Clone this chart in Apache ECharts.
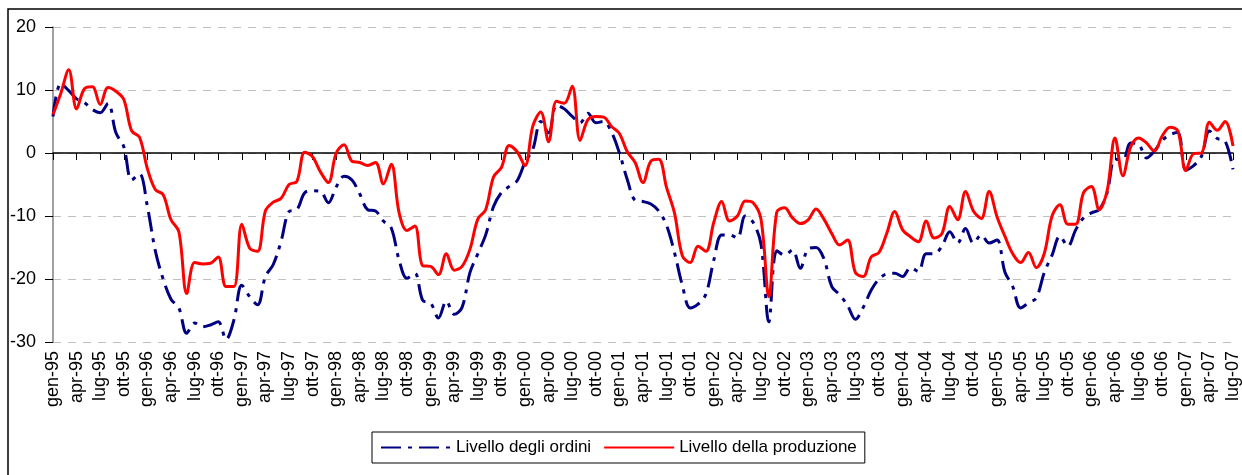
<!DOCTYPE html>
<html>
<head>
<meta charset="utf-8">
<script src="https://cdn.jsdelivr.net/npm/echarts@6/dist/echarts.min.js"></script>
<style>
  html, body { margin: 0; padding: 0; background: #fff; }
  #chart { width: 1242px; height: 475px; }
</style>
</head>
<body>
<div id="chart"></div>
<script>
  'use strict'
  /*----- dati: gen-95 .. lug-07, mensili -----*/
  var mesi = ['gen', 'feb', 'mar', 'apr', 'mag', 'giu', 'lug', 'ago', 'set', 'ott', 'nov', 'dic'];
  var anni = ['95', '96', '97', '98', '99', '00', '01', '02', '03', '04', '05', '06', '07'];
  var yTicks = [-30, -20, -10, 0, 10, 20];

  var ordini = [
    5.8, 11.0, 9.9, 8.6, 8.0, 6.9, 6.4, 7.9, 3.2, 1.0, -4.3, -3.3,
    -8.5, -15.5, -20.0, -23.2, -24.6, -28.6, -27.0, -27.6, -27.3, -26.8, -29.6, -26.5,
    -21.0, -22.8, -24.1, -19.6, -17.7, -14.0, -9.3, -9.0, -6.3, -6.0, -6.1, -7.9,
    -5.4, -3.7, -4.3, -6.5, -9.0, -9.2, -10.8, -11.9, -17.0, -19.9, -19.1, -23.4,
    -23.8, -26.2, -23.5, -25.6, -24.5, -19.0, -16.0, -13.0, -8.5, -6.3, -5.3, -4.4,
    -1.5, 0.6, 5.0, 3.2, 7.6, 7.0, 5.8, 4.8, 6.3, 4.8, 5.0, 3.3,
    0.0, -4.2, -7.5, -7.7, -8.1, -9.2, -11.5, -15.8, -21.0, -24.6, -24.0, -22.4,
    -17.0, -13.0, -13.0, -13.5, -10.0, -11.0, -14.5, -26.8, -15.5, -16.2, -15.4, -18.3,
    -15.2, -15.0, -16.8, -21.2, -22.5, -24.2, -26.4, -24.5, -21.8, -20.0, -19.2, -19.1,
    -19.6, -18.2, -18.8, -16.0, -16.0, -14.8, -12.5, -14.3, -12.0, -14.3, -13.0, -14.3,
    -13.8, -18.9, -21.2, -24.6, -23.8, -23.0, -19.0, -16.2, -13.2, -14.8, -12.2, -10.3,
    -9.5, -9.0, -6.3, -1.0, -1.1, 1.6, 1.4, -0.8, 0.3, 2.0, 2.9, 3.3,
    -2.7, -2.0, -0.5, 3.5, 2.3, 1.9, -2.6
  ];

  var produzione = [
    6.1, 9.5, 13.2, 7.0, 10.2, 10.5, 7.7, 10.4, 9.8, 8.5, 3.5, 2.5,
    -2.5, -5.8, -6.6, -10.6, -12.5, -22.3, -17.4, -17.6, -17.5, -16.5, -21.2, -21.2,
    -11.3, -15.1, -15.6, -9.2, -7.8, -7.2, -5.0, -4.5, 0.1, -0.6, -3.0, -4.7,
    0.0, 1.3, -1.3, -1.5, -2.0, -1.5, -4.9, -1.8, -9.5, -12.3, -11.6, -17.9,
    -18.0, -19.3, -16.0, -18.6, -18.0, -15.3, -10.5, -9.0, -3.8, -2.3, 1.2, 0.2,
    -2.0, 4.3, 6.5, 1.8, 8.2, 7.9, 10.6, 2.0, 5.3, 5.8, 5.7, 4.2,
    3.1, 0.2, -1.5, -4.7, -1.3, -1.0, -5.5, -9.5, -16.3, -17.4, -14.8, -15.6,
    -11.0, -7.7, -10.8, -10.0, -7.6, -7.9, -10.5, -22.8, -9.4, -8.7, -10.3, -11.2,
    -10.6, -8.9, -10.5, -12.8, -14.6, -13.8, -19.0, -19.6, -16.5, -15.8, -12.7, -9.3,
    -12.2, -13.3, -14.1, -10.8, -13.5, -12.8, -8.5, -10.6, -6.1, -9.2, -10.4, -6.1,
    -10.1, -13.2, -16.0, -17.4, -15.8, -18.2, -16.0, -10.0, -8.2, -11.3, -11.3, -6.3,
    -5.3, -9.0, -6.0, 2.4, -3.6, 1.0, 2.4, 1.6, 0.3, 2.7, 4.1, 3.5,
    -2.8, -0.1, 0.0, 4.9, 3.6, 5.0, 1.1
  ];

  var categorie = [];
  anni.forEach(function (a) {
    mesi.forEach(function (m) { categorie.push(m + '-' + a); });
  });
  categorie = categorie.slice(0, ordini.length);

  var font = 'Liberation Sans, Arial, sans-serif';
  var chart = echarts.init(document.getElementById('chart'));

  var option = {
    animation: false,
    backgroundColor: '#fff',
    textStyle: { fontFamily: font },
    graphic: [{
      type: 'rect',
      silent: true,
      shape: { x: 8, y: 9, width: 1400, height: 600 },
      style: { fill: 'none', stroke: '#000', lineWidth: 1.5 }
    }],
    grid: { left: 53, right: 9, top: 27, height: 315 },
    legend: {
      left: 372,
      top: 432,
      padding: [7, 8, 7, 8],
      borderColor: '#000',
      borderWidth: 1,
      itemWidth: 70,
      itemHeight: 14,
      itemGap: 12,
      itemStyle: { opacity: 0 },
      textStyle: { fontSize: 17, color: '#000', fontFamily: font },
      data: ['Livello degli ordini', 'Livello della produzione']
    },
    xAxis: [
      {
        type: 'category',
        data: categorie,
        boundaryGap: false,
        position: 'bottom',
        axisLine: { show: false, onZero: false },
        axisTick: { show: false },
        splitLine: { show: false },
        axisLabel: {
          interval: 2,
          rotate: 90,
          margin: 9,
          fontSize: 18,
          color: '#000',
          fontFamily: font
        }
      },
      {
        type: 'category',
        data: categorie,
        boundaryGap: false,
        position: 'top',
        axisLine: { show: true, onZero: true, lineStyle: { color: '#000', width: 1.5 } },
        axisTick: { show: true, inside: true, interval: 2, length: 7, lineStyle: { color: '#000', width: 1 } },
        axisLabel: { show: false },
        splitLine: { show: false }
      }
    ],
    yAxis: {
      type: 'value',
      min: yTicks[0],
      max: yTicks[yTicks.length - 1],
      interval: 10,
      axisLine: { show: true, lineStyle: { color: '#808080', width: 1.5 } },
      axisTick: { show: true, length: 8, lineStyle: { color: '#000' } },
      axisLabel: { fontSize: 18, color: '#000', margin: 17, fontFamily: font },
      splitLine: { show: true, lineStyle: { color: '#c0c0c0', type: [8, 7], width: 1 } }
    },
    series: [
      {
        name: 'Livello degli ordini',
        type: 'line',
        data: ordini,
        smooth: 0.35,
        symbol: 'none',
        itemStyle: { color: '#000080' },
        lineStyle: { color: '#000080', width: 3, type: [20, 7, 4, 7] }
      },
      {
        name: 'Livello della produzione',
        type: 'line',
        data: produzione,
        smooth: 0.35,
        symbol: 'none',
        itemStyle: { color: '#ff0000' },
        lineStyle: { color: '#ff0000', width: 3 }
      }
    ]
  };

  chart.setOption(option);
</script>
</body>
</html>
